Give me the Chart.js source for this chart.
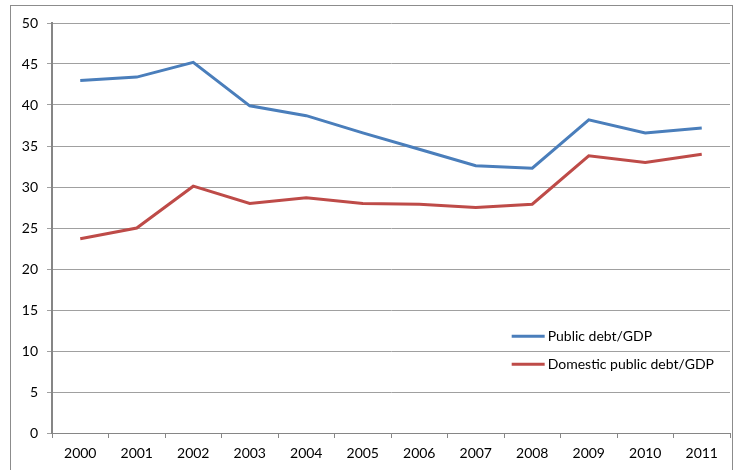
<!DOCTYPE html>
<html>
<head>
<meta charset="utf-8">
<style>
  html, body { margin: 0; padding: 0; background: #fff; }
  #wrap { position: relative; width: 736px; height: 470px; }
  #frame { position: absolute; left: 10px; top: 5px; width: 723px; height: 470px; border: 1px solid #8c8c8c; box-sizing: border-box; pointer-events: none; }
</style>
</head>
<body>
<div id="wrap">
  <canvas id="debtChart" width="736" height="470"></canvas>
  <div id="frame"></div>
</div>

<script src="https://cdn.jsdelivr.net/npm/chart.js"></script>
<script>
  const years = ['2000', '2001', '2002', '2003', '2004', '2005', '2006', '2007', '2008', '2009', '2010', '2011'];
  const publicDebt = [43.0, 43.4, 45.2, 39.9, 38.7, 36.6, 34.6, 32.6, 32.3, 38.2, 36.6, 37.2];
  const domesticDebt = [23.7, 25.0, 30.1, 28.0, 28.7, 28.0, 27.9, 27.5, 27.9, 33.8, 33.0, 34.0];
  const seriesNames = ['Public debt/GDP', 'Domestic public debt/GDP'];

  Chart.defaults.font.family = 'Lato, "Open Sans", sans-serif';
  Chart.defaults.font.size = 14;
  Chart.defaults.color = '#000';

  // legend drawn inside the plot area, lower right, like the original
  const insideLegend = {
      id: 'insideLegend',
      afterDraw(chart) {
          const c = chart.ctx;
          const area = chart.chartArea;
          const x0 = area.left + (area.right - area.left) * 0.678;
          const y0 = chart.scales.y.getPixelForValue(11.8);
          c.save();
          c.font = '14px Lato, "Open Sans", sans-serif';
          c.textBaseline = 'middle';
          chart.data.datasets.forEach(function (ds, i) {
              const y = y0 + i * 28;
              c.strokeStyle = ds.borderColor;
              c.lineWidth = 3;
              c.beginPath();
              c.moveTo(x0, y);
              c.lineTo(x0 + 33, y);
              c.stroke();
              c.fillStyle = '#000';
              c.fillText(ds.label, x0 + 36, y);
          });
          c.restore();
      }
  };

  const ctx = document.getElementById('debtChart');
  const debtChart = new Chart(ctx, {
      type: 'line',
      plugins: [insideLegend],
      data: {
          labels: years,
          datasets: [
              {
                  label: seriesNames[0],
                  data: publicDebt,
                  borderColor: '#4a7ebb',
                  borderWidth: 3,
                  pointRadius: 0,
                  tension: 0,
              },
              {
                  label: seriesNames[1],
                  data: domesticDebt,
                  borderColor: '#be4b48',
                  borderWidth: 3,
                  pointRadius: 0,
                  tension: 0,
              },
          ]
      },
      options: {
          responsive: false,
          animation: false,
          layout: {
              padding: { left: 0, top: 23, right: 6, bottom: 0 }
          },
          plugins: {
              legend: { display: false },
              tooltip: { enabled: false },
          },
          scales: {
              x: {
                  offset: true,
                  afterFit: function (scale) { scale.height = 37; },
                  grid: {
                      offset: true,
                      drawOnChartArea: false,
                      drawTicks: true,
                      tickLength: 5,
                      color: '#868686',
                  },
                  border: { color: '#868686', width: 1 },
                  ticks: { padding: 7, maxRotation: 0, autoSkip: false },
              },
              y: {
                  min: 0,
                  max: 50,
                  afterFit: function (scale) { scale.width = 52; },
                  ticks: { stepSize: 5, padding: 9 },
                  grid: {
                      color: '#a0a0a0',
                      tickLength: 5,
                  },
                  border: { color: '#868686', width: 2 },
              }
          }
      }
  });
</script>
</body>
</html>
